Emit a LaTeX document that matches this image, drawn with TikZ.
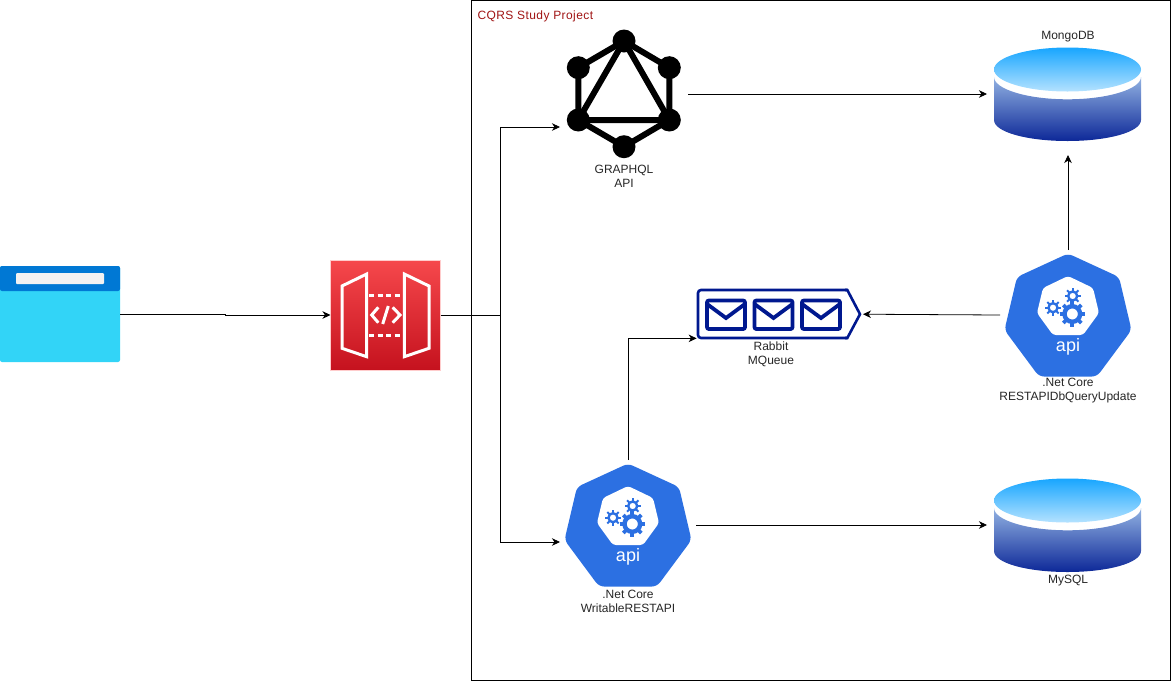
\documentclass[tikz,border=0pt]{standalone}
\usepackage{fontspec}
\setmainfont{Liberation Sans}
\usetikzlibrary{arrows.meta,positioning}
\definecolor{kubeblue}{HTML}{2C70E2}
\definecolor{queueblue}{HTML}{00188F}
\newcommand{\gearicon}[5]{% x, y, ring radius, ring width, tooth end
	\draw[kubeblue,line width=#4pt] (#1,#2) circle (#3pt);
	\foreach \a in {0,45,...,315}
		\draw[kubeblue,line width=#4*0.85pt] (#1,#2) ++(\a:#3pt) -- ++(\a:#5pt-#3pt);
}
\tikzset{
	iconbox/.style={inner sep=0pt,outer sep=0pt},
	caption/.style={align=center,inner sep=0pt,font=\fontsize{12}{14}\selectfont,text=black!85},
	flow/.style={->,black,line width=.8pt},
	kubeapi/.pic={
		\fill[kubeblue,rounded corners=5pt] (0,-61.5) -- (51,-38) -- (63.5,15) -- (29,61.5) -- (-29,61.5) -- (-63.5,15) -- (-51,-38) -- cycle;
		\fill[white,rounded corners=3pt] (0,-39) -- (25,-27) -- (31,-2) -- (15,20) -- (-15,20) -- (-31,-2) -- (-25,-27) -- cycle;
		\gearicon{4.3}{-1}{7.8}{4.4}{12.7}
		\gearicon{4.7}{-19}{4.5}{2.4}{8}
		\gearicon{-15}{-7.3}{4.5}{2.4}{8}
		\node[white,inner sep=0pt,font=\fontsize{18}{18}\selectfont] (apilabel) at (0,31.5) {api};
	},
	dbdisk/.pic={
		\shade[top color={rgb,255:red,146;green,178;blue,226},bottom color={rgb,255:red,13;green,40;blue,152}]
			(-73.5,-17) .. controls (-73.5,-5) and (-40.6,5.3) .. (0,5.3) .. controls (40.6,5.3) and (73.5,-5) .. (73.5,-17)
			-- (73.5,26) .. controls (73.5,38) and (40.6,47) .. (0,47) .. controls (-40.6,47) and (-73.5,38) .. (-73.5,26) -- cycle;
		\shade[top color={rgb,255:red,24;green,166;blue,255},bottom color={rgb,255:red,180;green,226;blue,255}]
			(0,-24.5) circle[x radius=73.5pt,y radius=22pt];
	}
}
\begin{document}
\begin{tikzpicture}[x=1pt,y=-1pt,>={Stealth[length=8pt,width=7.5pt,inset=2.4pt]}]
	\useasboundingbox (0,0) rectangle (1171,681);
	\node[draw=black,line width=1pt,iconbox,minimum width=699,minimum height=680] (project) at (820.5,340.5) {};
	\node[right,iconbox,text={rgb,255:red,160;green,20;blue,20},font=\fontsize{12}{14}\selectfont\addfontfeature{LetterSpace=3.5}] (title) at (477.5,16) {CQRS Study Project};

	% browser window
	\node[iconbox,fill={rgb,255:red,50;green,212;blue,247},rounded corners=2pt,minimum width=120,minimum height=96] (browser) at (60,314) {};
	\fill[color={rgb,255:red,0;green,120;blue,212},rounded corners=2pt] (0,291) -- (0,266) -- (120,266) -- (120,291) -- cycle;
	\fill[color=black!5,rounded corners=1pt] (16,273) rectangle (104,284);

	% api gateway
	\node[iconbox,top color={rgb,255:red,246;green,72;blue,76},bottom color={rgb,255:red,197;green,18;blue,30},draw=red!20,minimum width=110,minimum height=110] (gateway) at (385.5,315) {};
	\draw[white,line width=3pt] (342,286) -- (366.7,274) -- (366.7,356.7) -- (342,348.3) -- cycle;
	\draw[white,line width=3pt] (404.3,274) -- (429,286) -- (429,348.3) -- (404.3,356.7) -- cycle;
	\foreach \y in {295.7,335}
		\draw[white,line width=3pt,dash pattern=on 5pt off 3.5pt] (369,\y) -- (403,\y);
	\draw[white,line width=3pt] (378.3,307.3) -- (371.7,315) -- (378.3,322.7);
	\draw[white,line width=3pt] (392.7,307.3) -- (400,315) -- (392.7,322.7);
	\draw[white,line width=3pt] (388.3,306) -- (382.7,324);

	% graphql
	\node[iconbox,minimum width=128,minimum height=134] (graphql) at (624,94) {};
	\draw[black,line width=6pt,line join=round] (624,41) -- (669.3,67.7) -- (669.3,120) -- (624,146.7) -- (578.3,120) -- (578.3,67.7) -- cycle;
	\draw[black,line width=6pt,line join=round] (624,41) -- (669.3,120) -- (578.3,120) -- cycle;
	\foreach \x/\y in {624/41,669.3/67.7,669.3/120,624/146.7,578.3/120,578.3/67.7}
		\fill[black] (\x,\y) circle (11.5pt);
	\node[caption] (graphqllabel) at (624,176) {GRAPHQL\\API};

	% databases
	\node[iconbox,minimum width=147,minimum height=94] (mongodb) at (1067.5,94) {};
	\pic at (1067.5,94) {dbdisk};
	\node[caption] (mongolabel) at (1068,37) {MongoDB};
	\node[iconbox,minimum width=147,minimum height=94] (mysql) at (1067.5,525) {};
	\pic at (1067.5,525) {dbdisk};
	\node[caption] (mysqllabel) at (1068,581) {MySQL};

	% queue
	\node[iconbox,minimum width=164.3,minimum height=48.3] (rabbit) at (778.8,314.2) {};
	\draw[queueblue,line width=2.6pt,rounded corners=3pt] (847.3,290) -- (698,290) -- (698,338) -- (847.3,338);
	\draw[queueblue,line width=2.6pt] (845,290) -- (847.3,290) -- (860,314.2) -- (847.3,338) -- (845,338);
	\foreach \x in {707,754.5,802}{
		\draw[queueblue,line width=3.8pt,rounded corners=2pt] (\x,300.5) rectangle (\x+38,329);
		\draw[queueblue,line width=3.8pt] (\x,304) -- (\x+19,318) -- (\x+38,304);
	}
	\node[caption] (rabbitlabel) at (771,354.5) {Rabbit\\MQueue};

	% services
	\node[iconbox,minimum width=136,minimum height=130] (writable) at (628,525) {};
	\pic at (628,525) {kubeapi};
	\node[caption] (writablelabel) at (628,601) {.Net Core\\WritableRESTAPI};
	\node[iconbox,minimum width=136,minimum height=130] (queryupdate) at (1068,315) {};
	\pic at (1068,315) {kubeapi};
	\node[caption] (queryupdatelabel) at (1068,391) {.Net Core\\RESTAPIDbQueryUpdate};

	\coordinate (split) at (500,315);
	\draw[flow] (browser.east) -- (225,314) -- (225,315) -- (gateway.west);
	\draw[black,line width=.8pt] (gateway.east) -- (split);
	\draw[flow] (split) |- ([yshift=-33pt]graphql.west);
	\draw[flow] (split) |- ([yshift=-17pt]writable.west);
	\draw[flow,shorten >=7pt] (graphql.east) -- (mongodb.west);
	\draw[flow,shorten >=7pt] (writable.east) -- (mysql.west);
	\draw[flow] (writable.north) |- (rabbit.south west);
	\draw[flow,shorten >=2pt] (queryupdate.west) -- (rabbit.east);
	\draw[flow,shorten >=14pt] (queryupdate.north) -- (mongodb.south -| queryupdate.north);
\end{tikzpicture}
\end{document}
